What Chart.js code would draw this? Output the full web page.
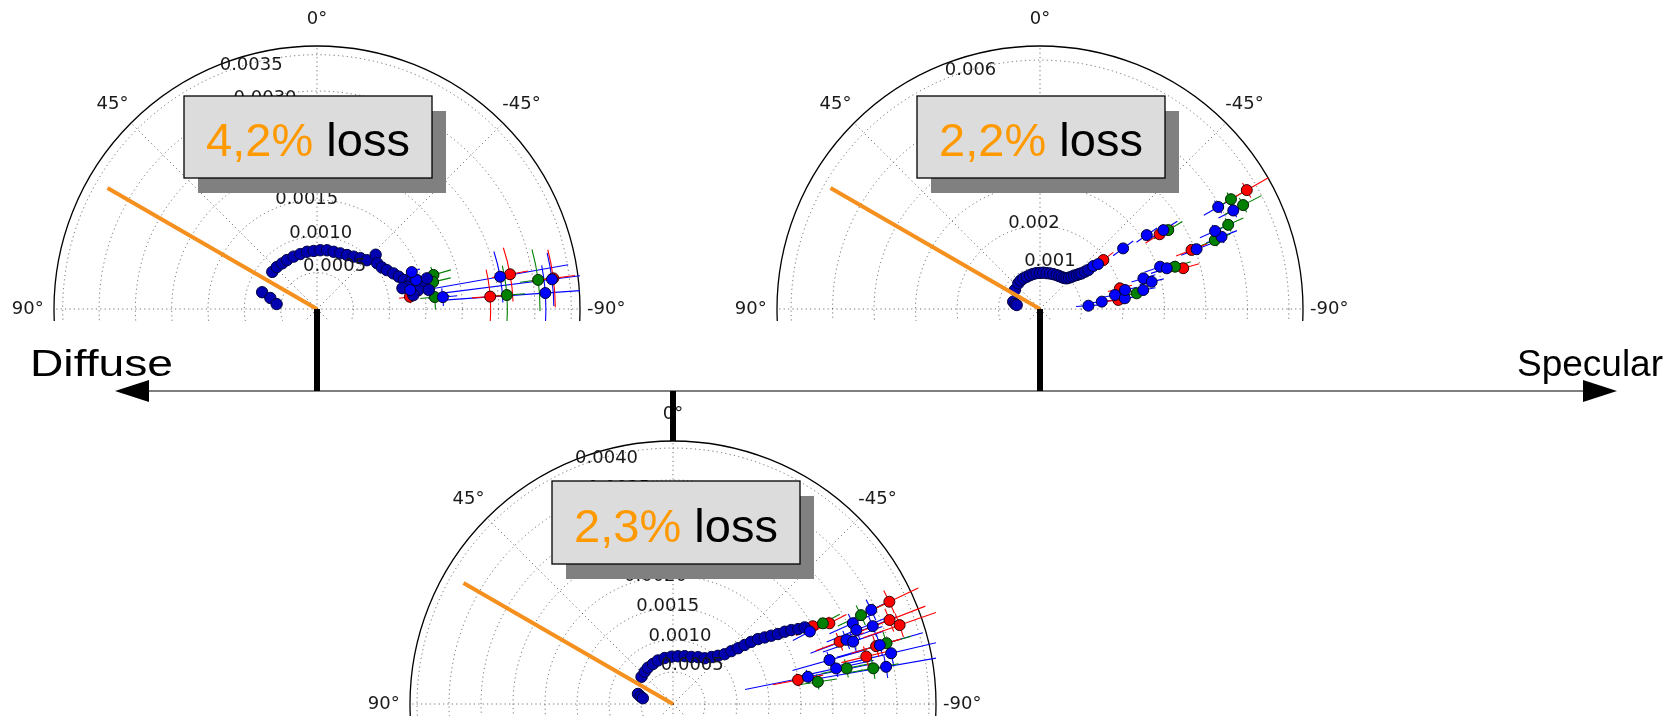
<!DOCTYPE html>
<html lang="en">
<head>
<meta charset="utf-8" />
<title>Scattering loss – diffuse to specular</title>
<script src="https://cdn.jsdelivr.net/npm/chart.js"></script>
<style>
	body { margin: 0; background: #fff; }
	#stage { position: relative; width: 1674px; height: 716px; overflow: hidden; }
	.plot { position: absolute; }
	#overlay { position: absolute; left: 0; top: 0; pointer-events: none; }
	#overlay text { font-family: "Liberation Sans", Arial, sans-serif; white-space: pre; }
</style>
</head>
<body>
<div id="stage">
	<canvas id="polar1" class="plot" width="626" height="315" style="left:4px;top:6px"></canvas>
	<canvas id="polar2" class="plot" width="626" height="315" style="left:727px;top:6px"></canvas>
	<canvas id="polar3" class="plot" width="626" height="315" style="left:360px;top:401px"></canvas>

	<svg id="overlay" width="1674" height="716">
		<!-- diffuse <-> specular axis -->
		<line x1="140" y1="391" x2="1590" y2="391" stroke="#555" stroke-width="1.5" />
		<polygon points="115,391 149,380 149,402" fill="#000" />
		<polygon points="1617,391 1583,380 1583,402" fill="#000" />
		<text x="30" y="376" font-size="37" textLength="143" lengthAdjust="spacingAndGlyphs">Diffuse</text>
		<text x="1663" y="376" font-size="37" text-anchor="end">Specular</text>

		<!-- connectors from each plot to the axis -->
		<rect x="314" y="309" width="6" height="82" fill="#000" />
		<rect x="1037" y="309" width="6" height="82" fill="#000" />
		<rect x="670" y="391" width="6" height="50" fill="#000" />

		<!-- loss boxes -->
		<rect x="198" y="111" width="248" height="82" fill="#808080" />
		<rect x="184" y="96" width="248" height="82" fill="#dcdcdc" stroke="#000" stroke-width="1.3" />
		<text id="loss1" x="308" y="156" font-size="47" text-anchor="middle"></text>

		<rect x="931" y="111" width="248" height="82" fill="#808080" />
		<rect x="917" y="96" width="248" height="82" fill="#dcdcdc" stroke="#000" stroke-width="1.3" />
		<text id="loss2" x="1041" y="156" font-size="47" text-anchor="middle"></text>

		<rect x="566" y="496" width="248" height="83" fill="#808080" />
		<rect x="552" y="481" width="248" height="83" fill="#dcdcdc" stroke="#000" stroke-width="1.3" />
		<text id="loss3" x="676" y="542" font-size="47" text-anchor="middle"></text>
	</svg>
</div>

<script>
// shared polar axis setup
var angleTicks = [0, 45, 90, -45, -90];
var angleLabels = ["0°", "45°", "90°", "-45°", "-90°"];
var rLabelAngle = 22.5;
var incidenceAngle = 60;
var cropBelow = 0.0456; // part of rmax still visible under the 90°/-90° line

// ---- plot 1 (4,2% loss) ----
var p1Loss = "4,2%";
var p1RMax = 0.00362;
var p1Ticks = [0.0005, 0.001, 0.0015, 0.002, 0.0025, 0.003, 0.0035];
var p1TickLabels = ["0.0005", "0.0010", "0.0015", "0.0020", "0.0025", "0.0030", "0.0035"];
var p1IncidenceR = 0.00333;
var p1ArcTheta = [50.3, 43.8, 37.4, 31.5, 24.1, 16.9, 9.9, 3.3, -3.2, -9.7, -16.2, -22.7, -29.1, -35.0, -40.5, -45.6, -47.2, -52.7, -57.3, -60.9, -65.0, -68.4, -71.5, -73.7, -73.8, -76.2, -77.9, -76.1, -74.4, -79.4, -76.3, -81.8, -80.3, 73.0, 76.7, 83.0];
var p1ArcR = [0.0008, 0.0008, 0.00079, 0.00079, 0.00079, 0.00079, 0.0008, 0.0008, 0.00081, 0.00082, 0.00082, 0.00083, 0.00085, 0.00088, 0.00092, 0.00096, 0.0011, 0.00104, 0.00106, 0.0011, 0.00116, 0.00121, 0.00126, 0.00134, 0.00143, 0.00149, 0.00136, 0.00128, 0.00157, 0.00142, 0.00121, 0.00134, 0.00156, 0.00079, 0.00066, 0.00056];
var p1BlueTheta = [-84.6, -80.0, -82.8, -86.0, -73.7, -78.5, -68.7];
var p1BlueR = [0.00174, 0.00256, 0.00326, 0.00315, 0.00142, 0.00131, 0.0014];
var p1BlueTErr = [4, 8, 6.5, 7, 3, 3, 2];
var p1BlueRErr = [0.0002, 0.00095, 0.0016, 0.00145, 0.00015, 0.00015, 0.00012];
var p1RedTheta = [-79.8, -82.6, -85.9, -82.5, -76.0];
var p1RedR = [0.0027, 0.00328, 0.00239, 0.00129, 0.0015];
var p1RedTErr = [8, 7, 9, 4, 3];
var p1RedRErr = [0.00025, 0.0003, 0.00025, 0.00015, 0.00015];
var p1GreenTheta = [-73.7, -76.9, -84.2, -82.5, -85.8];
var p1GreenR = [0.00167, 0.00164, 0.00163, 0.00307, 0.00262];
var p1GreenTErr = [4, 4, 6, 8, 9];
var p1GreenRErr = [0.00025, 0.00025, 0.0002, 0.00025, 0.00025];

// ---- plot 2 (2,2% loss) ----
var p2Loss = "2,2%";
var p2RMax = 0.00634;
var p2Ticks = [0.001, 0.002, 0.003, 0.004, 0.005, 0.006];
var p2TickLabels = ["0.001", "0.002", "0.003", "0.004", "0.005", "0.006"];
var p2IncidenceR = 0.00583;
var p2ArcTheta = [52.8, 40.2, 34.3, 28.5, 22.4, 16.4, 10.8, 5.3, 0.0, -5.2, -10.5, -15.6, -20.8, -26.2, -30.3, -34.4, -38.1, -41.0, -42.8, -44.5, -45.6, -47.2, -48.3, -49.4, -50.3, -51.1, 74.7, 78.7, 80.3];
var p2ArcR = [0.00076, 0.00081, 0.00083, 0.00084, 0.00084, 0.00085, 0.00086, 0.00087, 0.00087, 0.00088, 0.00088, 0.00089, 0.0009, 0.00091, 0.00092, 0.00093, 0.00095, 0.00098, 0.00103, 0.00109, 0.00115, 0.00121, 0.00127, 0.00132, 0.00141, 0.0015, 0.00067, 0.00061, 0.00057];
var p2BlueTheta = [-51.1, -52.3, -53.9, -55.3, -57.4, -60.2, -86.1, -83.2, -79.4, -82.8, -77.4, -79.6, -73.5, -76.3, -70.6, -72.2, -69.1, -68.3, -66.0, -63.0];
var p2BlueR = [0.00165, 0.00177, 0.00248, 0.00313, 0.00353, 0.00495, 0.00117, 0.0015, 0.00184, 0.00206, 0.0021, 0.00253, 0.0026, 0.00277, 0.00307, 0.00321, 0.00404, 0.00471, 0.00462, 0.00523];
var p2BlueTErr = [2, 2, 2, 2, 2, 2, 2, 2, 2, 2, 2, 2, 2, 2, 2, 2, 2, 2, 2, 2];
var p2BlueRErr = [0.0002, 0.0002, 0.0003, 0.0003, 0.0004, 0.0004, 0.0003, 0.0003, 0.0003, 0.0003, 0.0003, 0.0003, 0.0003, 0.0003, 0.0004, 0.0004, 0.0004, 0.0004, 0.0004, 0.0004];
var p2RedTheta = [-52.3, -58.0, -75.5, -83.4, -74.1, -68.7, -60.1];
var p2RedR = [0.00193, 0.0034, 0.00199, 0.0019, 0.00359, 0.00392, 0.00575];
var p2RedTErr = [2, 2, 3, 3, 2, 2, 2];
var p2RedRErr = [0.0003, 0.0004, 0.0003, 0.0003, 0.0004, 0.0004, 0.0006];
var p2GreenTheta = [-58.4, -80.8, -72.6, -68.5, -65.9, -62.9, -60.1];
var p2GreenR = [0.00363, 0.00236, 0.00341, 0.00453, 0.00497, 0.0055, 0.00531];
var p2GreenTErr = [2, 3, 2, 2, 2, 2, 2];
var p2GreenRErr = [0.0004, 0.0003, 0.0004, 0.0004, 0.0004, 0.0005, 0.0005];

// ---- plot 3 (2,3% loss) ----
var p3Loss = "2,3%";
var p3RMax = 0.00411;
var p3Ticks = [0.0005, 0.001, 0.0015, 0.002, 0.0025, 0.003, 0.0035, 0.004];
var p3TickLabels = ["0.0005", "0.0010", "0.0015", "0.0020", "0.0025", "0.0030", "0.0035", "0.0040"];
var p3IncidenceR = 0.00378;
var p3ArcTheta = [49.2, 41.2, 34.6, 26.6, 19.1, 10.3, 1.9, -5.9, -13.7, -21.3, -28.2, -34.7, -39.4, -43.0, -46.0, -47.8, -49.4, -50.5, -51.5, -52.6, -54.0, -55.2, -56.3, -57.1, -58.0, -59.1, -59.8, 74.0, 77.0, 79.2];
var p3ArcR = [0.00065, 0.00067, 0.00069, 0.0007, 0.00072, 0.00073, 0.00074, 0.00075, 0.00077, 0.00079, 0.00083, 0.00087, 0.00095, 0.00103, 0.00112, 0.00123, 0.00134, 0.00145, 0.00156, 0.00167, 0.00177, 0.00187, 0.00197, 0.00208, 0.00218, 0.00228, 0.00238, 0.00057, 0.00052, 0.00048];
var p3BlueTheta = [-62.1, -64.6, -65.8, -68.7, -68.0, -69.7, -70.9, -74.1, -76.9, -74.3, -77.7, -80.1, -78.6];
var p3BlueR = [0.00242, 0.00343, 0.00308, 0.00335, 0.00309, 0.00289, 0.00298, 0.00336, 0.0035, 0.00254, 0.00261, 0.00338, 0.00215];
var p3BlueTErr = [2, 3, 3, 3, 3, 3, 3, 3, 3, 3, 3, 3, 3];
var p3BlueRErr = [0.0003, 0.0004, 0.0004, 0.0004, 0.0005, 0.0006, 0.0005, 0.0007, 0.0008, 0.0006, 0.0006, 0.0012, 0.001];
var p3RedTheta = [-60.9, -62.7, -64.7, -68.8, -70.8, -69.5, -74.1, -76.2, -79.1];
var p3RedR = [0.0025, 0.00275, 0.00374, 0.00363, 0.00375, 0.00278, 0.0033, 0.00311, 0.00199];
var p3RedTErr = [2, 2, 3, 3, 3, 3, 3, 3, 3];
var p3RedRErr = [0.0003, 0.0003, 0.0005, 0.0006, 0.0006, 0.0004, 0.0004, 0.0004, 0.0004];
var p3GreenTheta = [-61.7, -64.7, -74.1, -78.4, -79.9, -81.3];
var p3GreenR = [0.00266, 0.00325, 0.00347, 0.00277, 0.00318, 0.00229];
var p3GreenTErr = [2, 3, 3, 3, 3, 3];
var p3GreenRErr = [0.0003, 0.0004, 0.0004, 0.0004, 0.0004, 0.0003];

// theta measured from the top, positive towards the left (like the original polar plots)
function toXY(theta, r) {
	var a = (theta * Math.PI) / 180;
	return { x: -r * Math.sin(a), y: r * Math.cos(a) };
}

function series(thetas, rs, fill, edge, radius, tErr, rErr) {
	return {
		data: thetas.map(function (t, i) { return toXY(t, rs[i]); }),
		pointBackgroundColor: fill,
		pointBorderColor: edge,
		pointBorderWidth: 1,
		pointRadius: radius,
		showLine: false,
		clip: 0,
		thetas: thetas,
		rs: rs,
		tErr: tErr,
		rErr: rErr,
		errColor: fill,
	};
}

// grid, frame, error bars and labels of a matplotlib-like polar axis
function polarPlugin(ticks, tickLabels, rMax) {
	function geom(chart) {
		var x = chart.scales.x, y = chart.scales.y;
		var cx = x.getPixelForValue(0), cy = y.getPixelForValue(0);
		return { cx: cx, cy: cy, px: function (r) { return x.getPixelForValue(r) - cx; } };
	}
	function at(g, theta, r) {
		var a = (theta * Math.PI) / 180;
		return [g.cx - g.px(r) * Math.sin(a), g.cy - g.px(r) * Math.cos(a)];
	}
	return {
		id: "polarGrid",
		beforeDatasetsDraw: function (chart) {
			var ctx = chart.ctx, area = chart.chartArea, g = geom(chart);
			ctx.save();
			ctx.beginPath();
			ctx.rect(area.left - 3, area.top - 3, area.right - area.left + 6, area.bottom - area.top + 3);
			ctx.clip();

			// dotted rings and spokes
			ctx.strokeStyle = "rgba(0,0,0,0.55)";
			ctx.lineWidth = 1;
			ctx.setLineDash([1.2, 3.2]);
			ticks.forEach(function (t) {
				ctx.beginPath();
				ctx.arc(g.cx, g.cy, g.px(t), 0, 2 * Math.PI);
				ctx.stroke();
			});
			[0, 45, 90, 135, 180, -45, -90, -135].forEach(function (d) {
				var p = at(g, d, rMax);
				ctx.beginPath();
				ctx.moveTo(g.cx, g.cy);
				ctx.lineTo(p[0], p[1]);
				ctx.stroke();
			});
			ctx.setLineDash([]);

			// frame
			ctx.strokeStyle = "#000";
			ctx.lineWidth = 1.3;
			ctx.beginPath();
			ctx.arc(g.cx, g.cy, g.px(rMax), 0, 2 * Math.PI);
			ctx.stroke();

			// error bars (radial + angular)
			ctx.beginPath();
			ctx.rect(area.left, area.top, area.right - area.left, area.bottom - area.top);
			ctx.clip();
			ctx.lineWidth = 1.1;
			chart.data.datasets.forEach(function (ds) {
				if (!ds.rErr) return;
				ctx.strokeStyle = ds.errColor;
				ds.thetas.forEach(function (t, i) {
					var p0 = at(g, t, Math.max(0, ds.rs[i] - ds.rErr[i]));
					var p1 = at(g, t, ds.rs[i] + ds.rErr[i]);
					ctx.beginPath();
					ctx.moveTo(p0[0], p0[1]);
					ctx.lineTo(p1[0], p1[1]);
					ctx.stroke();
					var phi = (-(90 + t) * Math.PI) / 180;
					var e = (ds.tErr[i] * Math.PI) / 180;
					ctx.beginPath();
					ctx.arc(g.cx, g.cy, g.px(ds.rs[i]), phi - e, phi + e);
					ctx.stroke();
				});
			});
			ctx.restore();
		},
		afterDatasetsDraw: function (chart) {
			var ctx = chart.ctx, g = geom(chart);
			ctx.save();
			ctx.fillStyle = "#1a1a1a";
			ctx.font = '18px "DejaVu Sans"';
			ctx.textAlign = "left";
			ctx.textBaseline = "bottom";
			ticks.forEach(function (t, i) {
				var p = at(g, rLabelAngle, t);
				ctx.fillText(tickLabels[i], p[0], p[1]);
			});
			ctx.textAlign = "center";
			ctx.textBaseline = "middle";
			angleTicks.forEach(function (d, i) {
				var p = at(g, d, rMax * 1.1);
				ctx.fillText(angleLabels[i], p[0], p[1]);
			});
			ctx.restore();
		},
	};
}

function makePolar(id, rMax, ticks, tickLabels, incR, arc, blue, red, green) {
	var datasets = [
		{
			// incidence direction
			data: [toXY(incidenceAngle, 0), toXY(incidenceAngle, incR)],
			showLine: true,
			borderColor: "#f5901e",
			borderWidth: 4,
			pointRadius: 0,
			clip: 0,
		},
		series(blue[0], blue[1], "#0000ff", "#000030", 5.5, blue[2], blue[3]),
		series(arc[0], arc[1], "#0000b0", "#000040", 5.7),
		series(green[0], green[1], "#008000", "#002000", 5.5, green[2], green[3]),
		series(red[0], red[1], "#ff0000", "#300000", 5.5, red[2], red[3]),
	];
	return new Chart(document.getElementById(id), {
		type: "scatter",
		data: { datasets: datasets },
		options: {
			responsive: false,
			animation: false,
			events: [],
			layout: { autoPadding: false, padding: { left: 50, right: 50, top: 40, bottom: 0 } },
			plugins: { legend: { display: false }, tooltip: { enabled: false } },
			scales: {
				x: { type: "linear", display: false, min: -rMax, max: rMax },
				y: { type: "linear", display: false, min: -rMax * cropBelow, max: rMax },
			},
		},
		plugins: [polarPlugin(ticks, tickLabels, rMax)],
	});
}

makePolar("polar1", p1RMax, p1Ticks, p1TickLabels, p1IncidenceR,
	[p1ArcTheta, p1ArcR],
	[p1BlueTheta, p1BlueR, p1BlueTErr, p1BlueRErr],
	[p1RedTheta, p1RedR, p1RedTErr, p1RedRErr],
	[p1GreenTheta, p1GreenR, p1GreenTErr, p1GreenRErr]);
makePolar("polar2", p2RMax, p2Ticks, p2TickLabels, p2IncidenceR,
	[p2ArcTheta, p2ArcR],
	[p2BlueTheta, p2BlueR, p2BlueTErr, p2BlueRErr],
	[p2RedTheta, p2RedR, p2RedTErr, p2RedRErr],
	[p2GreenTheta, p2GreenR, p2GreenTErr, p2GreenRErr]);
makePolar("polar3", p3RMax, p3Ticks, p3TickLabels, p3IncidenceR,
	[p3ArcTheta, p3ArcR],
	[p3BlueTheta, p3BlueR, p3BlueTErr, p3BlueRErr],
	[p3RedTheta, p3RedR, p3RedTErr, p3RedRErr],
	[p3GreenTheta, p3GreenR, p3GreenTErr, p3GreenRErr]);

// loss captions: percentage in orange, word in black
[[ "loss1", p1Loss ], [ "loss2", p2Loss ], [ "loss3", p3Loss ]].forEach(function (item) {
	var el = document.getElementById(item[0]);
	var ns = "http://www.w3.org/2000/svg";
	var a = document.createElementNS(ns, "tspan");
	a.setAttribute("fill", "#ff9900");
	a.textContent = item[1];
	var b = document.createElementNS(ns, "tspan");
	b.setAttribute("fill", "#000");
	b.textContent = " loss";
	el.appendChild(a);
	el.appendChild(b);
});
</script>
</body>
</html>
